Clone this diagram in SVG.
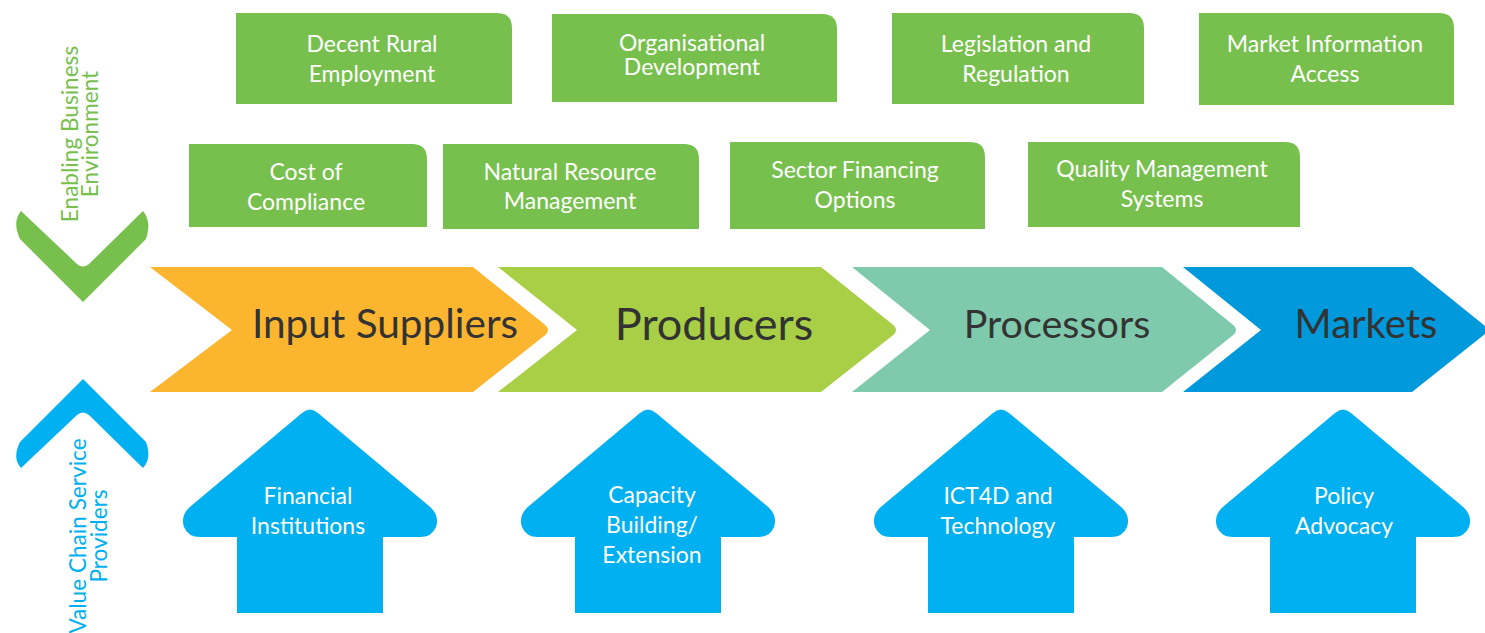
<svg xmlns="http://www.w3.org/2000/svg" width="1485" height="633" viewBox="0 0 1485 633">
<style>
text{font-family:Lato,"Open Sans","Liberation Sans",sans-serif;text-anchor:middle}
.box{fill:#78c04e}
.bt{fill:#ffffff;font-size:23px}
.ct{fill:#333333;font-size:40.5px}
.arw{fill:#00b0f0}
.at{fill:#ffffff;font-size:23px}
.side-g{fill:#78c04e;font-size:22.6px}
.side-b{fill:#00b0f0;font-size:22.6px}
</style>
<rect width="1485" height="633" fill="#ffffff"/>

<g id="enabling-label">
<path d="M83,302 L146,239 Q152,222 143,211 L89,264 Q83,269 77,264 L21,211 Q12,222 20,239 Z" fill="#78c04e"/>
<text class="side-g" transform="translate(78,134) rotate(-90)">Enabling Business</text>
<text class="side-g" transform="translate(98,134) rotate(-90)">Environment</text>
</g>

<g id="service-label">
<path d="M83,379 L146,442 Q152,458 143,468 L89,415 Q83,410 77,415 L21,468 Q12,458 20,442 Z" fill="#00b0f0"/>
<text class="side-b" transform="translate(86,536) rotate(-90)">Value Chain Service</text>
<text class="side-b" transform="translate(107,536) rotate(-90)">Providers</text>
</g>

<g id="decent-rural-employment">
<path class="box" d="M236,13 H497 Q512,13 512,28 V104 H236 Z"/>
<text class="bt" x="372" y="52">Decent Rural</text>
<text class="bt" x="372" y="82">Employment</text>
</g>
<g id="organisational-development">
<path class="box" d="M552,14 H822 Q837,14 837,29 V102 H552 Z"/>
<text class="bt" x="692" y="51">Organisational<tspan x="692" y="75">Development</tspan></text>
</g>
<g id="legislation-regulation">
<path class="box" d="M892,13 H1129 Q1144,13 1144,28 V104 H892 Z"/>
<text class="bt" x="1016" y="52">Legislation and</text>
<text class="bt" x="1016" y="82">Regulation</text>
</g>
<g id="market-information-access">
<path class="box" d="M1199,13 H1439 Q1454,13 1454,28 V105 H1199 Z"/>
<text class="bt" x="1325" y="52">Market Information</text>
<text class="bt" x="1325" y="82">Access</text>
</g>
<g id="cost-of-compliance">
<path class="box" d="M189,144 H412 Q427,144 427,159 V227 H189 Z"/>
<text class="bt" x="306" y="180">Cost of</text>
<text class="bt" x="306" y="210">Compliance</text>
</g>
<g id="natural-resource-management">
<path class="box" d="M443,144 H684 Q699,144 699,159 V229 H443 Z"/>
<text class="bt" x="570" y="180">Natural Resource</text>
<text class="bt" x="570" y="209">Management</text>
</g>
<g id="sector-financing-options">
<path class="box" d="M730,142 H970 Q985,142 985,157 V229 H730 Z"/>
<text class="bt" x="855" y="178">Sector Financing</text>
<text class="bt" x="855" y="208">Options</text>
</g>
<g id="quality-management-systems">
<path class="box" d="M1028,142 H1285 Q1300,142 1300,157 V227 H1028 Z"/>
<text class="bt" x="1162" y="177">Quality Management</text>
<text class="bt" x="1162" y="207">Systems</text>
</g>

<g id="input-suppliers">
<path d="M150,267 L473,267 L544,324 Q552,330 544,336 L473,392 L150,392 L232,330 Z" fill="#fbb52f"/>
<text class="ct" x="385" y="338">Input Suppliers</text>
</g>
<g id="producers">
<path d="M498,267 L821,267 L892,324 Q900,330 892,336 L821,392 L498,392 L577,330 Z" fill="#a8cf45"/>
<text class="ct" x="714" y="340" style="font-size:45px">Producers</text>
</g>
<g id="processors">
<path d="M852,267 L1162,267 L1232,324 Q1240,330 1232,336 L1162,392 L852,392 L930,330 Z" fill="#7fcaad"/>
<text class="ct" x="1057" y="338" style="font-size:39.5px">Processors</text>
</g>
<g id="markets">
<path d="M1183,267 L1412,267 L1490,330 L1412,392 L1183,392 L1261,330 Z" fill="#0099db"/>
<text class="ct" x="1366" y="338" style="font-size:40px">Markets</text>
</g>

<g id="financial-institutions">
<path class="arw" d="M302,413 Q310,406 318,413 L429,506 Q440,515 436,527 Q432,537 420,537 L383,537 L383,613 L237,613 L237,537 L200,537 Q188,537 184,527 Q180,515 191,506 Z"/>
<text class="at" x="308" y="504">Financial</text>
<text class="at" x="308" y="534">Institutions</text>
</g>
<g id="capacity-building-extension">
<path class="arw" d="M640,413 Q648,406 656,413 L767,506 Q778,515 774,527 Q770,537 758,537 L721,537 L721,613 L575,613 L575,537 L538,537 Q526,537 522,527 Q518,515 529,506 Z"/>
<text class="at" x="652" y="503">Capacity</text>
<text class="at" x="652" y="533">Building/</text>
<text class="at" x="652" y="563">Extension</text>
</g>
<g id="ict4d-technology">
<path class="arw" d="M993,413 Q1001,406 1009,413 L1120,506 Q1131,515 1127,527 Q1123,537 1111,537 L1074,537 L1074,613 L928,613 L928,537 L891,537 Q879,537 875,527 Q871,515 882,506 Z"/>
<text class="at" x="998" y="504">ICT4D and</text>
<text class="at" x="998" y="534">Technology</text>
</g>
<g id="policy-advocacy">
<path class="arw" d="M1335,413 Q1343,406 1351,413 L1462,506 Q1473,515 1469,527 Q1465,537 1453,537 L1416,537 L1416,613 L1270,613 L1270,537 L1233,537 Q1221,537 1217,527 Q1213,515 1224,506 Z"/>
<text class="at" x="1344" y="504">Policy</text>
<text class="at" x="1344" y="534">Advocacy</text>
</g>

<g id="connectors"></g>
</svg>
